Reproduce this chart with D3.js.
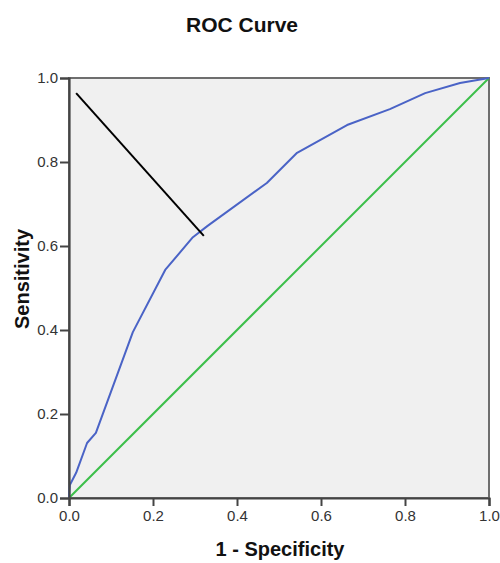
<!DOCTYPE html>
<html>
<head>
<meta charset="utf-8">
<script src="https://cdn.jsdelivr.net/npm/d3@7"></script>
<style>
  body { margin: 0; background: #fff; }
  text { font-family: "Liberation Sans", Arial, sans-serif; }
</style>
</head>
<body>
<svg id="chart" width="500" height="563"></svg>
<script>
// ROC curve
const fpr = [0, 0.002, 0.017, 0.043, 0.064, 0.152, 0.229, 0.295, 0.33, 0.471, 0.543, 0.662, 0.764, 0.848, 0.931, 1];
const tpr = [0, 0.031, 0.06, 0.131, 0.155, 0.395, 0.543, 0.621, 0.648, 0.75, 0.822, 0.888, 0.926, 0.964, 0.988, 1];
const refX = [0, 1];
const refY = [0, 1];
// pointer line drawn over the plot
const noteX = [0.017, 0.321];
const noteY = [0.964, 0.624];
const ticks = [0, 0.2, 0.4, 0.6, 0.8, 1.0];

const svg = d3.select("#chart");
const margin = {top: 78, right: 11, bottom: 65, left: 69};
const width = 500, height = 563;
const innerWidth = width - margin.left - margin.right;
const innerHeight = height - margin.top - margin.bottom;

const xScale = d3.scaleLinear().domain([0, 1]).range([0, innerWidth]);
const yScale = d3.scaleLinear().domain([0, 1]).range([innerHeight, 0]);

const g = svg.append("g")
  .attr("transform", `translate(${margin.left}, ${margin.top})`);

g.append("rect")
  .attr("width", innerWidth)
  .attr("height", innerHeight)
  .attr("fill", "#f0f0f0")
  .attr("stroke", "#6e6e6e")
  .attr("stroke-width", 2);

const line = d3.line().x(d => xScale(d[0])).y(d => yScale(d[1]));

g.append("path")
  .datum(refX.map((x, i) => [x, refY[i]]))
  .attr("d", line)
  .attr("fill", "none")
  .attr("stroke", "#3cbf4a")
  .attr("stroke-width", 2);

g.append("path")
  .datum(fpr.map((x, i) => [x, tpr[i]]))
  .attr("d", line)
  .attr("fill", "none")
  .attr("stroke", "#4a63c6")
  .attr("stroke-width", 2)
  .attr("stroke-linejoin", "round");

g.append("path")
  .datum(noteX.map((x, i) => [x, noteY[i]]))
  .attr("d", line)
  .attr("fill", "none")
  .attr("stroke", "#000")
  .attr("stroke-width", 2);

const fmt = d3.format(".1f");

const xAxisG = g.append("g")
  .attr("transform", `translate(0, ${innerHeight})`)
  .call(d3.axisBottom(xScale).tickValues(ticks).tickFormat(fmt).tickSize(8).tickPadding(4));

const yAxisG = g.append("g")
  .call(d3.axisLeft(yScale).tickValues(ticks).tickFormat(fmt).tickSize(9).tickPadding(2));

[xAxisG, yAxisG].forEach(a => {
  a.attr("font-size", 15).attr("font-family", "'Liberation Sans', Arial, sans-serif");
  a.select(".domain").attr("stroke", "#444").attr("stroke-width", 2.2);
  a.selectAll(".tick line").attr("stroke", "#444").attr("stroke-width", 2);
  a.selectAll(".tick text").attr("fill", "#333");
});

svg.append("text")
  .attr("x", 242)
  .attr("y", 32)
  .attr("text-anchor", "middle")
  .style("font-size", "21px")
  .style("font-weight", "bold")
  .attr("fill", "#111")
  .text("ROC Curve");

svg.append("text")
  .attr("x", 280)
  .attr("y", 556)
  .attr("text-anchor", "middle")
  .style("font-size", "20px")
  .style("font-weight", "bold")
  .attr("fill", "#111")
  .text("1 - Specificity");

svg.append("text")
  .attr("transform", "translate(29, 279) rotate(-90)")
  .attr("text-anchor", "middle")
  .style("font-size", "20px")
  .style("font-weight", "bold")
  .attr("fill", "#111")
  .text("Sensitivity");
</script>
</body>
</html>
